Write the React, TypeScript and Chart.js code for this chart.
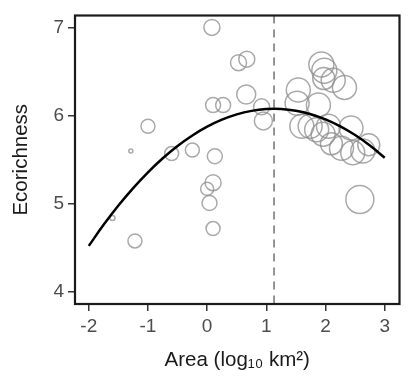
import React, { useEffect, useRef } from "react";
import { Chart, registerables } from "chart.js";

Chart.register(...registerables);

// Bubble data (x = log10 area, y = ecorichness, r = marker radius px)
const bubbleX = [0.08, 0.53, 0.67, 0.1, 0.27, 0.66, 0.92, 0.95, -1.0, -1.29, -0.6, -0.25, 0.13, 0.1, 0.0, 0.04, -1.6, -1.22, 0.1, 2.58,
  1.93, 1.98, 2.13, 2.32, 1.54, 1.52, 1.88, 1.6, 1.74, 1.85, 1.96, 2.05, 2.43, 2.1, 2.27, 2.46, 2.63, 2.73, 1.97];
const bubbleY = [7.0, 6.6, 6.64, 6.12, 6.12, 6.24, 6.1, 5.94, 5.88, 5.6, 5.57, 5.61, 5.54, 5.24, 5.17, 5.01, 4.84, 4.58, 4.72, 5.05,
  6.58, 6.51, 6.4, 6.32, 6.29, 6.14, 6.12, 5.88, 5.88, 5.84, 5.79, 5.88, 5.86, 5.68, 5.63, 5.58, 5.6, 5.67, 6.42];
const bubbleR = [8, 8, 8, 7.5, 7.5, 9.5, 8, 9, 7, 2, 7, 7, 7.5, 8, 6.5, 7.5, 2.5, 7, 7, 14,
  12.5, 12.5, 12, 12, 12, 12, 12, 12, 12, 12, 12, 12, 12, 11, 12, 12, 12, 11, 11];

// Fitted curve
const curveX = [-2, -1.75, -1.5, -1.25, -1, -0.75, -0.5, -0.25, 0, 0.25, 0.5, 0.75, 1, 1.25, 1.5, 1.75, 2, 2.25, 2.5, 2.75, 3];
const curveY = [4.524, 4.762, 4.981, 5.179, 5.358, 5.517, 5.656, 5.775, 5.875, 5.954, 6.014, 6.054, 6.074, 6.075, 6.055, 6.016, 5.957, 5.878, 5.78, 5.661, 5.523];

const breakX = 1.13;
const xTicks = [-2, -1, 0, 1, 2, 3];
const yTicks = [4, 5, 6, 7];

export default function App() {
  const ref = useRef<HTMLCanvasElement | null>(null);
  useEffect(() => {
    if (!ref.current) return;
    const framePlugin = {
      id: "frame",
      beforeDatasetsDraw(chart: any) {
        const { ctx, chartArea, scales } = chart;
        const px = scales.x.getPixelForValue(breakX);
        ctx.save();
        ctx.strokeStyle = "#7a7a7a";
        ctx.lineWidth = 1.6;
        ctx.setLineDash([8, 6]);
        ctx.beginPath();
        ctx.moveTo(px, chartArea.top);
        ctx.lineTo(px, chartArea.bottom);
        ctx.stroke();
        ctx.restore();
      },
      afterDraw(chart: any) {
        const { ctx, chartArea } = chart;
        ctx.save();
        ctx.strokeStyle = "#1a1a1a";
        ctx.lineWidth = 2.2;
        ctx.strokeRect(chartArea.left, chartArea.top, chartArea.right - chartArea.left, chartArea.bottom - chartArea.top);
        ctx.restore();
      },
    };
    const tickFont = { family: "Liberation Sans", size: 19 };
    const titleFont = { family: "Liberation Sans", size: 20.5 };
    const chart = new Chart(ref.current, {
      type: "bubble",
      data: {
        datasets: [
          {
            type: "scatter",
            data: curveX.map((x, i) => ({ x, y: curveY[i] })),
            showLine: true,
            borderColor: "#000",
            borderWidth: 2.5,
            pointRadius: 0,
            tension: 0.4,
            order: 0,
          } as any,
          {
            type: "bubble",
            data: bubbleX.map((x, i) => ({ x, y: bubbleY[i], r: bubbleR[i] })),
            backgroundColor: "rgba(0,0,0,0)",
            borderColor: "rgba(140,140,140,0.75)",
            borderWidth: 1.5,
            order: 1,
          },
        ],
      },
      options: {
        animation: false,
        responsive: false,
        layout: { padding: { top: 8, right: 12, left: 0, bottom: 0 } },
        plugins: { legend: { display: false }, tooltip: { enabled: false } },
        scales: {
          x: {
            type: "linear",
            min: -2.233,
            max: 3.25,
            afterBuildTicks: (s: any) => { s.ticks = xTicks.map((v) => ({ value: v })); },
            afterFit: (s: any) => { s.height = 74; },
            grid: { drawOnChartArea: false, drawTicks: true, tickLength: 7, tickColor: "#333", lineWidth: 1.5 },
            border: { display: false },
            ticks: { color: "#4d4d4d", font: tickFont, padding: 4, callback: (v: any) => String(v) },
            title: { display: true, text: "Area (log\u2081\u2080 km\u00b2)", color: "#1a1a1a", font: titleFont, padding: { top: 0, bottom: 5 } },
          },
          y: {
            type: "linear",
            min: 3.865,
            max: 7.135,
            afterBuildTicks: (s: any) => { s.ticks = yTicks.map((v) => ({ value: v })); },
            afterFit: (s: any) => { s.width = 75; },
            grid: { drawOnChartArea: false, drawTicks: true, tickLength: 7, tickColor: "#333", lineWidth: 1.5 },
            border: { display: false },
            ticks: { color: "#4d4d4d", font: tickFont, padding: 4, callback: (v: any) => String(v) },
            title: { display: true, text: "Ecorichness", color: "#1a1a1a", font: titleFont, padding: { top: 9, bottom: 0 } },
          },
        },
      },
      plugins: [framePlugin],
    } as any);
    return () => chart.destroy();
  }, []);
  return (
    <div style={{ position: "fixed", left: 0, top: 0, width: 415, height: 378, background: "#fff" }}>
      <canvas ref={ref} width={415} height={378} />
    </div>
  );
}
